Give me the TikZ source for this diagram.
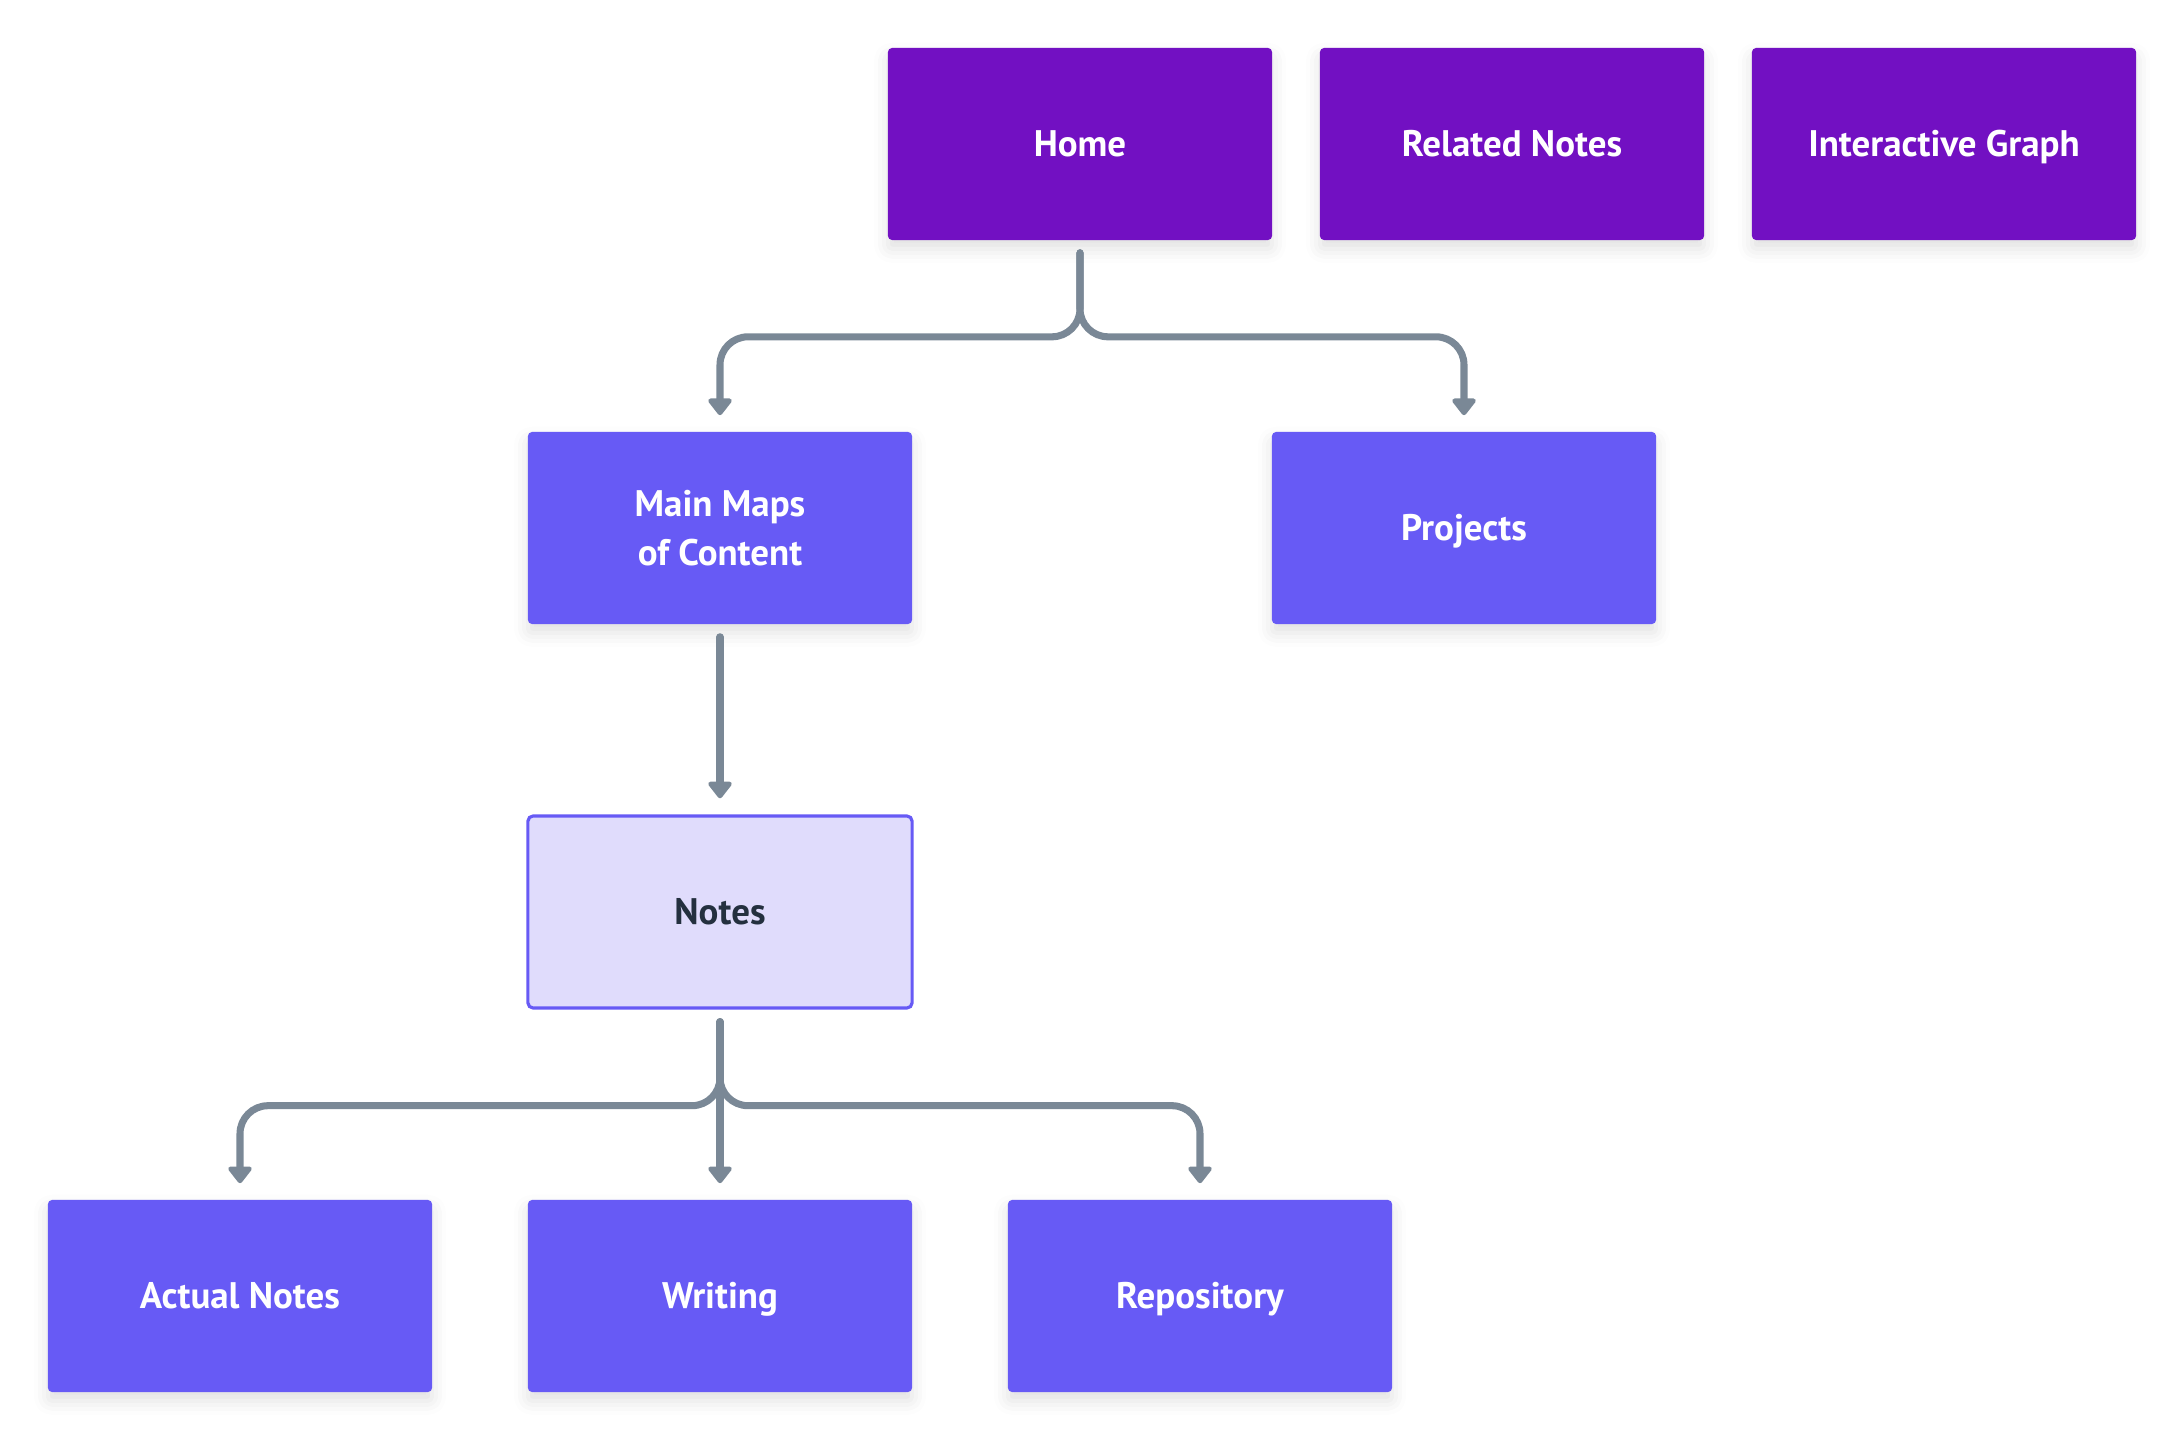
\documentclass[tikz,border=0pt]{standalone}
\usepackage{fontspec}
\setmainfont{PT Sans}
\usetikzlibrary{arrows.meta,shadows.blur}
\definecolor{homepurple}{HTML}{7210C2}
\definecolor{boxblue}{HTML}{675AF5}
\definecolor{notesfill}{HTML}{E0DCFC}
\definecolor{notestext}{HTML}{24303F}
\definecolor{conngray}{HTML}{7A8896}
\tikzset{
  box/.style={rectangle, rounded corners=1.2pt, minimum width=3.84cm, minimum height=1.92cm,
    inner sep=0pt, align=center, text=white, font=\fontsize{10.5}{14}\selectfont\bfseries,
    blur shadow={shadow xshift=0pt, shadow yshift=-2.5pt, shadow blur radius=4pt, shadow opacity=12}},
  oneline/.style={text height=8.25pt, text depth=1.35pt},
  topbox/.style={box, oneline, fill=homepurple},
  bluebox/.style={box, fill=boxblue},
  notesbox/.style={rectangle, rounded corners=1.5pt, minimum width=3.84cm, minimum height=1.92cm,
    inner sep=0pt, align=center, fill=notesfill, draw=boxblue, line width=0.9pt, oneline,
    text=notestext, font=\fontsize{10.5}{14}\selectfont\bfseries},
  conn/.style={draw=conngray, line width=2pt, line cap=round, rounded corners=0.28cm,
    -{Triangle[width=7.7pt, length=5.2pt, round]}},
}
\begin{document}
\begin{tikzpicture}[x=0.01cm, y=-0.01cm]
  \useasboundingbox (0,0) rectangle (2184,1440);
  \node[topbox] (home) at (1080,144) {Home};
  \node[topbox] (related) at (1512,144) {Related Notes};
  \node[topbox] (graph) at (1944,144) {Interactive Graph};
  \node[bluebox] (mm) at (720,528) {Main Maps\\of Content};
  \node[bluebox, oneline] (proj) at (1464,528) {Projects};
  \node[notesbox] (notes) at (720,912) {Notes};
  \node[bluebox, oneline] (actual) at (240,1296) {Actual Notes};
  \node[bluebox, oneline] (writing) at (720,1296) {Writing};
  \node[bluebox, oneline] (repo) at (1200,1296) {Repository};

  \draw[conn] ([yshift=-0.12cm]home.south) -- ([yshift=-0.96cm]home.south) -| ([yshift=0.16cm]mm.north);
  \draw[conn] ([yshift=-0.12cm]home.south) -- ([yshift=-0.96cm]home.south) -| ([yshift=0.16cm]proj.north);
  \draw[conn] ([yshift=-0.12cm]mm.south) -- ([yshift=0.16cm]notes.north);
  \draw[conn] ([yshift=-0.12cm]notes.south) -- ([yshift=-0.96cm]notes.south) -| ([yshift=0.16cm]actual.north);
  \draw[conn] ([yshift=-0.12cm]notes.south) -- ([yshift=0.16cm]writing.north);
  \draw[conn] ([yshift=-0.12cm]notes.south) -- ([yshift=-0.96cm]notes.south) -| ([yshift=0.16cm]repo.north);
\end{tikzpicture}
\end{document}
